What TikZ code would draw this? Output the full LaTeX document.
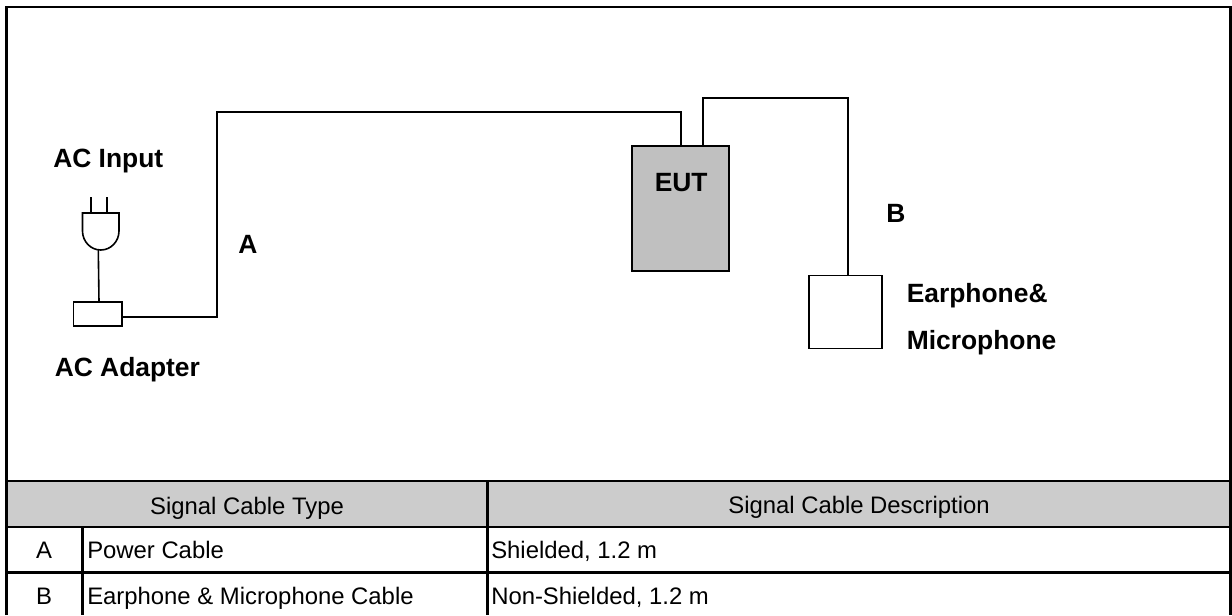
\documentclass[tikz,border=0pt]{standalone}
\usepackage{fontspec}
\setmainfont{Liberation Sans}
\usepackage{tikz}
\usetikzlibrary{positioning, calc}
\definecolor{headgray}{HTML}{CCCCCC}
\definecolor{eutgray}{HTML}{C0C0C0}
\tikzstyle{unit} = [rectangle, draw=black, line width=1.2pt, inner sep=0pt, fill=white]
\tikzstyle{cable} = [line width=1.2pt]
\tikzstyle{grid} = [line width=2.2pt]
\tikzstyle{tag} = [font=\fontsize{19.8}{24}\selectfont\bfseries, inner sep=0pt, anchor=base west]
\tikzstyle{cell} = [font=\fontsize{17.9}{22}\selectfont, inner sep=0pt, anchor=base west]
\tikzstyle{mid} = [font=\fontsize{17.9}{22}\selectfont, inner sep=0pt, anchor=base]
\begin{document}
\begin{tikzpicture}[x=0.75pt, y=-0.75pt]
    \useasboundingbox (0,0) rectangle (1232,615);
    % table head
    \fill [headgray] (6,481) rectangle (1230,527);

    \node (adapter) [unit, minimum width=36.5pt, minimum height=18pt] at (97.8,314) {};
    \node (eut) [unit, fill=eutgray, minimum width=72.5pt, minimum height=93.5pt] at (680.5,208.5) {};
    \node (phone) [unit, minimum width=54.5pt, minimum height=54.5pt] at (845.5,312) {};
    \coordinate (plugbot) at (98.3,250);
    \coordinate (cornera) at (217,112);
    \coordinate (cornerb) at (703,98);

    % plug
    \draw [cable] (82.5,213) -- (119,213) -- (119,231) arc (0:180:18.25 and 19) -- cycle;
    \draw [cable] (91,197) -- (91,213);
    \draw [cable] (107,197) -- (107,213);
    \draw [cable] (plugbot) -- (99,302);

    % cables
    \draw [cable] (adapter.east |- 0,317) -- (217,317) -- (cornera) -- (681,112) -- (681,146);
    \draw [cable] (703,146) -- (cornerb) -- (848,98) -- (848,275.7);

    \node [tag] at (53,167) {AC Input};
    \node [tag] at (238,253) {A};
    \node [tag] at (54.5,376) {AC Adapter};
    \node [tag] at (654.5,191) {EUT};
    \node [tag] at (886,222) {B};
    \node [tag] at (906.5,302) {Earphone\&};
    \node [tag] at (906.5,349) {Microphone};

    % table and frame
    \draw [grid] (6.5,615) -- (6.5,7) -- (1230.5,7) -- (1230.5,615);
    \draw [grid] (6,481) -- (1230,481);
    \draw [grid] (6,527) -- (1230,527);
    \draw [grid] (6,572.3) -- (1230,572.3);
    \draw [grid] (487.3,481) -- (487.3,615);
    \draw [grid] (82.5,527) -- (82.5,615);

    \node [mid] at (247,514) {Signal Cable Type};
    \node [mid] at (859,513.5) {Signal Cable Description};
    \node [mid] at (44,558) {A};
    \node [mid] at (44,604.5) {B};
    \node [cell] at (87,558) {Power Cable};
    \node [cell] at (87,604.5) {Earphone \& Microphone Cable};
    \node [cell] at (491,558.5) {Shielded, 1.2 m};
    \node [cell] at (491,604) {Non-Shielded, 1.2 m};
\end{tikzpicture}
\end{document}
